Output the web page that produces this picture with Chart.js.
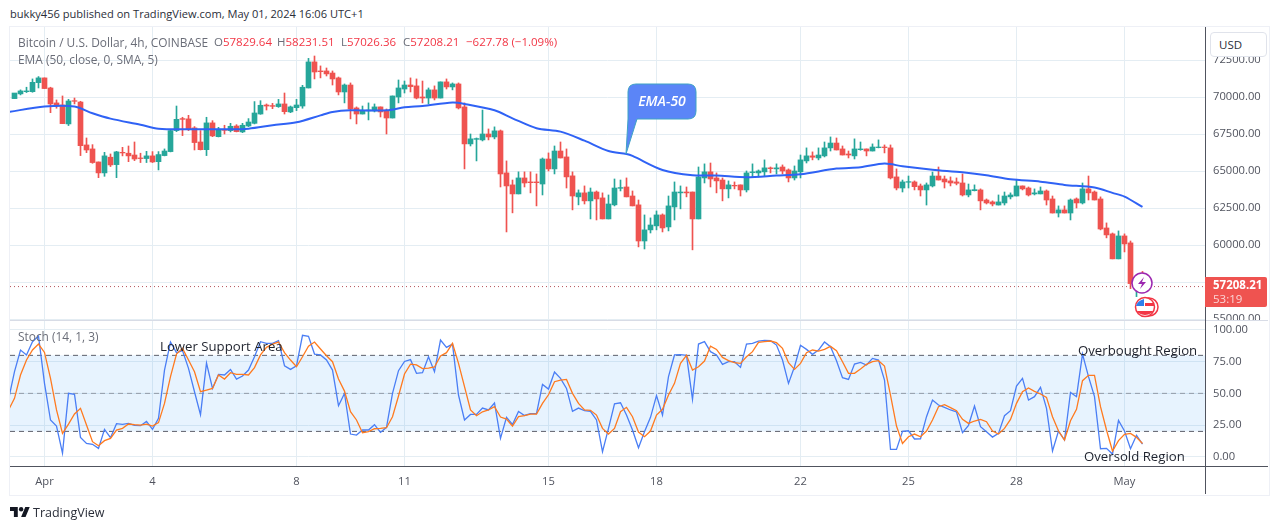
<!DOCTYPE html>
<html>
<head>
<meta charset="utf-8">
<title>BTCUSD 4h</title>
<script src="https://cdn.jsdelivr.net/npm/chart.js@4"></script>
<style>
  html, body { margin: 0; padding: 0; background: #fff; overflow: hidden; }
  body { width: 1281px; height: 530px; position: relative; font-family: 'Open Sans', sans-serif; font-size: 11.5px; color: #131722; }
  canvas { position: absolute; left: 10px; }
  .abs { position: absolute; white-space: nowrap; line-height: 16px; }
  .rule { position: absolute; }
  .muted { color: #6a6d78; }
  .legend { font-size: 11.9px; }
  .red { color: #f23645; }
  .note { font-size: 13.2px; color: #1e222d; }
</style>
</head>
<body>
<div class="abs" style="left:10px;top:6px;color:#2a2e39;font-size:11.1px;">bukky456 published on TradingView.com, May 01, 2024 16:06 UTC+1</div>

<!-- outer frame -->
<div class="rule" style="left:9px;top:26px;width:1259px;height:468px;border:1px solid #eef0f6;"></div>

<canvas id="priceChart" width="1258" height="293" style="top:27px"></canvas>
<canvas id="stochChart" width="1258" height="173" style="top:321px"></canvas>

<!-- pane separators -->
<div class="rule" style="left:10px;top:320px;width:1258px;height:1px;background:#d8dce6;"></div>
<div class="rule" style="left:10px;top:466px;width:1258px;height:1px;background:#50535e;"></div>
<div class="rule" style="left:1205px;top:27px;width:1px;height:467px;background:#50535e;"></div>

<div class="abs muted legend" style="left:18px;top:34px;">Bitcoin / U.S. Dollar, 4h, COINBASE</div>
<div class="abs muted" style="left:214px;top:34px;">O<span class="red">57829.64</span></div>
<div class="abs muted" style="left:277px;top:34px;">H<span class="red">58231.51</span></div>
<div class="abs muted" style="left:341px;top:34px;">L<span class="red">57026.36</span></div>
<div class="abs muted" style="left:403px;top:34px;">C<span class="red">57208.21</span></div>
<div class="abs red" style="left:466px;top:34px;">−627.78 (−1.09%)</div>
<div class="abs muted legend" style="left:18px;top:51px;">EMA (50, close, 0, SMA, 5)</div>
<div class="abs muted legend" style="left:18px;top:328px;">Stoch (14, 1, 3)</div>

<div class="abs note" style="left:160px;top:338px;">Lower Support Area</div>
<div class="abs note" style="left:1078px;top:342px;">Overbought Region</div>
<div class="abs note" style="left:1084px;top:448px;">Oversold Region</div>

<!-- callout -->
<svg style="position:absolute;left:0;top:0;" width="1281" height="530">
  <path d="M636 84 H688 Q696 84 696 92 V111 Q696 119 688 119 H637 L626 154 L628 119 V92 Q628 84 636 84 Z" fill="#5b85f7" stroke="#3fa3c4" stroke-width="1"/>
  <circle cx="1149" cy="307" r="9" fill="#fff" stroke="#f23645" stroke-width="1.5"/>
  <circle cx="1145" cy="307" r="9.5" fill="#fff" stroke="#f23645" stroke-width="1.5"/>
  <path d="M1137 311 H1153 Q1152 314 1145 315 Q1138 314 1137 311 Z M1145 303 H1154 V306 H1145 Z" fill="#f23645"/>
  <path d="M1136 306 Q1137 301 1144 299 V306 Z" fill="#2f80ed"/>
  <circle cx="1142" cy="283" r="10" fill="#fff" stroke="#9c27b0" stroke-width="1.5"/>
  <path d="M1144 277 L1138 284 H1142 L1140 289 L1146 282 H1142 Z" fill="#9c27b0"/>
</svg>
<div class="abs" style="left:628px;top:93px;width:68px;text-align:center;color:#fff;font-style:italic;font-weight:600;font-size:14px;">EMA-50</div>

<!-- axis widgets -->
<div class="abs" style="left:1210px;top:32px;width:57px;height:25px;background:#fff;border:1px solid #e0e3eb;border-radius:4px;box-sizing:border-box;padding:4px 0 0 8px;color:#2a2e39;">USD</div>
<div class="abs" style="left:1205px;top:277px;width:62px;height:30px;background:#ef5350;border-radius:0 2px 2px 0;"></div>
<div class="abs" style="left:1213px;top:277px;color:#fff;font-weight:700;font-size:11.5px;">57208.21</div>
<div class="abs" style="left:1213px;top:291px;color:#fbd5d6;font-size:11.5px;">53:19</div>

<!-- footer -->
<svg style="position:absolute;left:10px;top:507px;" width="20" height="10" viewBox="0 4 36 18">
  <path d="M14 22H7V11H0V4h14v18zM28 22h-8l7.5-18h8L28 22z" fill="#131722"/><circle cx="20" cy="8" r="4" fill="#131722"/>
</svg>
<div class="abs" style="left:33px;top:505px;color:#2a2e39;font-size:12.5px;">TradingView</div>

<script>
// 4h candles, left to right
const opens = [69910,70230,70380,70380,70990,71310,70630,69620,69480,68200,69770,69680,66780,66510,65630,64890,65950,65450,66280,66220,66100,65900,65860,66040,65650,66060,66330,67750,68560,68540,67930,66980,66460,68270,67340,67820,67750,68060,67660,68060,68240,68870,69480,69440,69370,69550,69010,69300,69410,70630,
  72390,71780,71780,71640,71310,70360,70830,69280,68870,69080,69080,69350,69080,68600,70020,70560,70830,70770,70020,69950,70500,69950,71040,70700,70900,69350,66850,67160,67120,67520,67320,67730,64890,64080,63470,64550,64280,64280,64140,65830,65160,66370,65970,64690,63270,63540,63000,63600,63200,61780,62730,
  63850,63940,63330,62730,60290,61040,61310,62050,61240,62590,63540,63600,63600,61780,64550,64960,64550,64410,63810,64050,64080,63740,64910,64890,64960,65230,65160,65290,65090,64550,64960,65700,66040,65900,66040,66580,66910,66510,66170,66040,66460,66510,66370,66600,66640,66580,64620,63870,
  64260,64280,64010,63740,64010,64680,64480,64350,64280,64210,63400,63690,63740,63060,62930,62720,62860,63270,63330,64010,63870,63470,63470,63670,63130,62180,62390,62180,63130,62860,63810,63600,63130,61170,60770,59080,60630,60160,57410,57829.64];
const highs = [69910,70500,70680,71240,71400,71310,70680,69820,70090,69860,69950,69730,67250,66800,65630,66280,66170,66350,66620,66710,66980,66220,66350,66330,66330,66510,67790,69410,68650,68780,68020,67750,68650,68420,67970,68110,68240,68150,68240,68560,69710,69770,69550,69590,69860,70290,69410,69860,70810,72630,
  72790,72120,71980,71780,71370,70900,70970,69350,69410,69620,69550,69350,69210,70090,71170,71100,71310,71240,71100,70630,70770,71040,71240,70970,70970,69620,67520,67250,69140,67860,68000,67790,65700,64410,64960,64960,64960,64820,65900,66240,66710,66980,66510,64960,63740,64010,63870,63670,63540,63400,64480,
  64410,64550,63670,63060,62050,61850,62320,62120,63330,64280,64010,63940,63600,65290,65500,65560,64890,64550,64350,64280,64080,65020,65500,65090,65770,65290,65500,65430,65160,65360,66100,66580,66310,66580,66980,67320,67250,66710,66370,67190,66980,66510,66850,67120,66780,66780,65160,64410,
  64680,64350,64140,64210,64950,65290,64680,64620,64550,64820,64140,64080,63810,63130,63000,63400,63600,63540,64410,64010,63940,63810,63940,63740,63330,62660,62660,63130,63200,64210,64680,63670,63270,61510,60830,60970,60770,60290,57900,58231.51];
const lows = [69910,70160,70320,70340,70630,70590,68960,69260,68220,68090,69550,66060,66260,65540,64570,64660,65320,64570,66040,65650,65720,65590,65590,65590,65090,66040,66310,67680,67410,67750,66440,66440,66060,67340,67320,67520,67660,67660,67610,68020,68200,68850,69140,69230,69320,68870,68960,69100,69260,70630,
  71240,71310,71440,70830,70160,69620,68540,68200,68870,68470,69010,68670,67520,68600,69620,70290,70360,69890,69620,69550,69820,69950,70560,70500,69210,65160,66710,65700,67050,67120,67190,63940,60900,62190,63470,63940,63540,62660,63400,65020,64820,65900,63870,62390,62730,62790,61780,61710,61780,61780,62660,
  63670,63270,62660,59890,59750,60830,61040,60900,60970,61710,62460,63270,59690,61780,64210,63940,63540,63000,63200,63810,63330,63600,64620,64620,64690,64890,64820,64820,64280,64410,64550,65560,65770,65770,65970,66370,66440,66100,65900,65830,66420,66040,66370,66580,66240,64480,63740,63600,
  63870,63740,63330,62720,63940,64410,63870,64010,64080,63330,63270,63670,62390,62790,62660,62720,62720,63130,63330,63740,63330,63400,63470,62720,62180,61910,62180,61710,62520,62790,63060,63060,61040,60500,59080,59080,59550,57070,56530,57026.36];
const closes = [70290,70430,70430,71010,71310,70590,69550,69410,68220,69750,69730,66730,66440,65590,64890,66040,65430,66310,66240,66040,65830,65860,66040,65630,66130,66370,67750,68510,68510,67860,66940,66460,68270,67390,67840,67770,68040,67680,68110,68330,68940,69460,69410,69390,69550,69030,69350,69480,70680,72390,
  71710,71730,71580,71240,70360,70830,69210,68870,69100,69140,69350,69010,68600,70090,70630,70830,70720,69950,69950,70500,69950,71040,70700,70900,69280,66850,67190,67210,67520,67320,67730,64820,64010,63470,64550,64210,64230,64230,65830,65160,66370,65900,64620,63330,63540,63000,63600,63130,61780,62790,63870,
  63900,63270,62660,60290,61040,61370,62050,61170,62660,63600,63600,63540,61780,64620,64960,64480,64350,63810,64080,64010,63740,64890,64960,65020,65230,65180,65230,65020,64550,65020,65770,66040,65950,66100,66580,66910,66440,66100,66100,66510,66510,66370,66640,66640,66600,64550,63870,64280,
  64300,63960,63740,64080,64680,64410,64280,64210,64190,63400,63740,63760,63000,62860,62790,62930,63330,63400,64010,63810,63400,63540,63670,63060,62180,62390,62180,63060,62860,63810,63540,63060,61100,60700,59080,60630,60090,57410,57820,57208.21];

const lastClose = 57208.21;

// EMA read at a set of candle positions
const emaIndex = [-1,5,10,13,16,21,24,29,35,39,43,47,51,53,56,62,65,68,73,75,80,83,87,91,95,99,102,103,108,113,117,122,127,131,137,141,145,148,153,158,162,166,171,175,180,183,185,188];
const emaValues = [69010,69370,69370,68920,68560,68150,67880,67840,67840,67880,68110,68310,68780,69010,69120,69120,69320,69410,69640,69550,69120,68580,67910,67680,67070,66370,66170,66040,65090,64730,64710,64600,64710,64800,65180,65270,65520,65340,65110,64930,64730,64460,64300,64080,63900,63540,63290,62590];

// stochastic, first point is one candle before the first visible one
const stochK = [45,67.1,84.2,80.3,90.8,95.2,57.9,29,24.2,2.9,50,49.2,15.3,10.5,9.8,6.6,21.6,15,26.1,25.5,26.3,24.8,24.5,27.9,21.6,30.3,68.4,90.5,82.1,83.7,69.7,51.3,33.2,73.9,53.9,65,64.5,68.9,61.3,63.7,68.4,78.9,90.8,89.5,89.5,91.6,71.8,68.9,71.8,95.8,95,
  81,80.3,76.3,68.4,40.3,50,17.9,17.1,21.1,21.1,25.3,19.2,23.2,50,67.9,75.2,76.6,65.8,66.3,78.9,67.1,92.1,86.3,88.9,48.7,29,33.4,33.4,38.4,36.9,42.4,14.5,31.1,25.5,35.8,32.6,34,34,57.1,53.4,66.8,61.8,53.9,35.8,38.4,36.3,35.8,29,4,22.4,41.8,
  42.6,32.9,21.1,7.1,19.8,31.1,48.2,32.9,63.2,80.3,80.5,80,45.3,88.9,90.8,82.9,80.3,72.9,75,75,70.5,88.9,89.5,91.3,91.8,91.6,88.1,76.3,57.9,71,87.9,84.7,80.8,84.2,90.5,86.8,75.8,62.4,61,73.1,74.5,72.4,77.6,76.3,60.5,5.8,5.8,20,20.5,14,14.2,31.6,
  44.7,40.8,39,36.9,35.3,19,24.8,40,23.7,19.8,15.5,18.4,32.4,36.3,55.8,61.8,44.7,47.4,54.7,38.2,4.5,20.3,13.2,50.8,47.4,81,63.2,47.4,6.3,6.6,2.1,28.7,20.3,6.3,16.9,10];
const stochD = [36.9,46.1,64.5,76.3,84.2,88.9,82.3,61.8,36.9,18.4,25.8,33.7,38.2,25,11.9,8.7,12.7,14.5,21.1,22.4,25.8,25.3,25,25.8,24.2,26.9,42.1,63.2,81,85.5,76.3,67.1,51.3,52.6,53.9,64.5,61.3,66.3,65,65,64.5,70.3,80.3,86.3,88.9,90.5,82.1,76.3,71,78.9,87.3,
  90.5,85,79.7,75,61.3,51.8,35.5,29,19,19.8,22.1,22.4,22.9,31.6,47.9,65.3,73.1,72.4,69.5,70,70.8,79.5,82.1,89.5,73.7,55.3,36.9,32.4,35.5,36.9,39.5,31.3,29.7,24.2,31.6,32.4,33.7,33.7,42.1,48.9,59.2,60.5,61,50,42.1,36.9,36.6,32.9,22.4,17.9,22.4,
  35.5,39,31.6,19.5,15.8,20.3,32.9,37.4,48.7,57.9,73.7,80,68.4,71,75.5,87.3,84.7,78.4,75.8,74.2,73.7,78.9,82.9,90.2,90.8,91.3,90,85.5,74.2,68.9,73.7,82.1,84.2,83.4,84.7,87.1,83.7,75,65.8,65.8,69.2,72.9,75,75.8,71.6,48.7,24.2,10.5,15.8,17.9,15.8,20.3,29,
  39.5,41.1,38.7,36.3,29.5,26.3,28.2,29.5,27.6,20.3,17.9,22.4,29.5,42.1,51.3,54.2,51.6,49.5,46.8,31.6,20.3,13.2,28.4,37.4,60,64.2,64.2,39.5,21.1,4.5,12.7,17.7,18.4,15.3,10.5];

// axis ticks
const priceTicks = [55000,57500,60000,62500,65000,67500,70000,72500];
const stochTicks = [0,25,50,75,100];
const dayIndex = [5,23,47,65,89,107,131,149,167,185];
const dayLabels = ['Apr','4','8','11','15','18','22','25','28','May'];

const upColor = '#26a69a';
const downColor = '#ef5350';
const gridColor = '#e4edf3';
const axisText = '#50535e';
const axisFont = { size: 11.2, family: 'Open Sans' };
const xMin = -0.75, xMax = 198.4167;

const candleColors = closes.map((c, i) => (c >= opens[i] ? upColor : downColor));

// shared x axis, ticks only on the day starts
function xAxis(showLabels, height) {
    return {
        type: 'linear',
        offset: false,
        bounds: 'data',
        min: xMin,
        max: xMax,
        border: { display: false },
        grid: { color: gridColor, offset: false, drawTicks: false },
        afterBuildTicks: axis => { axis.ticks = dayIndex.map(v => ({ value: v })); },
        afterFit: axis => {
            axis.height = height;
            axis.paddingLeft = 0;
            axis.paddingRight = 0;
        },
        ticks: {
            display: showLabels,
            autoSkip: false,
            maxRotation: 0,
            padding: 9,
            color: axisText,
            font: axisFont,
            callback: v => dayLabels[dayIndex.indexOf(v)]
        }
    };
}

function yAxis(min, max, tickValues) {
    return {
        position: 'right',
        bounds: 'data',
        min: min,
        max: max,
        border: { display: false },
        grid: { color: gridColor, drawTicks: false },
        afterBuildTicks: axis => { axis.ticks = tickValues.map(v => ({ value: v })); },
        // labels near the pane edges must not shrink the plot area
        afterFit: axis => {
            axis.width = 63;
            axis.paddingTop = 0;
            axis.paddingBottom = 0;
        },
        ticks: {
            autoSkip: false,
            padding: 8,
            color: axisText,
            font: axisFont,
            callback: v => v.toFixed(2)
        }
    };
}

const baseOptions = {
    responsive: false,
    animation: false,
    events: [],
    layout: { padding: 0 },
    plugins: { legend: { display: false }, tooltip: { enabled: false } }
};

new Chart(document.getElementById('priceChart'), {
    type: 'bar',
    data: {
        datasets: [
            {
                label: 'wicks',
                data: highs.map((h, i) => ({ x: i, y: [lows[i], h] })),
                backgroundColor: candleColors,
                barThickness: 1,
                grouped: false,
                order: 4
            },
            {
                label: 'bodies',
                data: opens.map((o, i) => ({ x: i, y: [o, closes[i]] })),
                backgroundColor: candleColors,
                barThickness: 5,
                grouped: false,
                order: 3
            },
            {
                type: 'line',
                label: 'EMA',
                data: emaIndex.map((x, i) => ({ x: x, y: emaValues[i] })),
                borderColor: '#2f62f5',
                borderWidth: 2,
                pointRadius: 0,
                tension: 0.3,
                order: 2
            },
            {
                type: 'line',
                label: 'last',
                data: [{ x: xMin, y: lastClose }, { x: xMax, y: lastClose }],
                borderColor: '#b5525a',
                borderWidth: 1,
                borderDash: [1, 3],
                pointRadius: 0,
                order: 1
            }
        ]
    },
    options: {
        ...baseOptions,
        scales: { x: xAxis(false, 0), y: yAxis(54950, 74750, priceTicks) }
    }
});

const bandLine = value => ({ type: 'line', data: [{ x: xMin, y: value }, { x: xMax, y: value }], pointRadius: 0, borderWidth: 1 });

new Chart(document.getElementById('stochChart'), {
    type: 'line',
    data: {
        datasets: [
            {
                ...bandLine(80),
                label: 'upper',
                borderColor: '#5d606b',
                borderDash: [5, 4],
                fill: { value: 20 },
                backgroundColor: 'rgba(33,150,243,0.11)',
                order: 5
            },
            { ...bandLine(50), label: 'middle', borderColor: 'rgba(120,123,134,0.7)', borderDash: [5, 4], order: 4 },
            { ...bandLine(20), label: 'lower', borderColor: '#5d606b', borderDash: [5, 4], order: 3 },
            {
                label: '%K',
                data: stochK.map((v, i) => ({ x: i - 1, y: v })),
                borderColor: '#4a7ef5',
                borderWidth: 1.3,
                pointRadius: 0,
                order: 2
            },
            {
                label: '%D',
                data: stochD.map((v, i) => ({ x: i - 1, y: v })),
                borderColor: '#ff7a1f',
                borderWidth: 1.3,
                pointRadius: 0,
                order: 1
            }
        ]
    },
    options: {
        ...baseOptions,
        scales: { x: xAxis(true, 28), y: yAxis(-7.3, 107.1, stochTicks) }
    }
});
</script>
</body>
</html>
